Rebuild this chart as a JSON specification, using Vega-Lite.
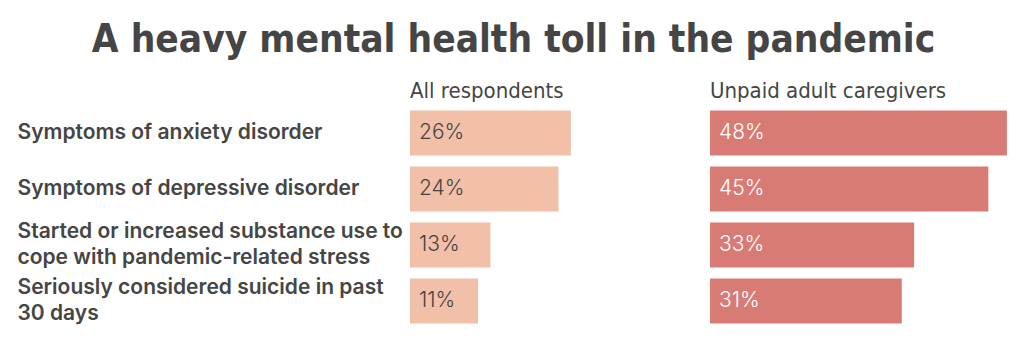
{
  "$schema": "https://vega.github.io/schema/vega-lite/v6.json",
  "background": "white",
  "padding": {"left": 17, "right": 14, "top": 20, "bottom": 10},
  "title": {
    "text": "A heavy mental health toll in the pandemic",
    "anchor": "middle",
    "frame": "bounds",
    "font": "DejaVu Sans Condensed, sans-serif",
    "fontSize": 38.5,
    "fontWeight": "bold",
    "color": "#454545",
    "offset": 20
  },
  "data": {
    "values": [
      {"item": "Symptoms of anxiety disorder", "group": "All respondents", "value": 0.26},
      {"item": "Symptoms of depressive disorder", "group": "All respondents", "value": 0.24},
      {"item": "Started or increased substance use to|cope with pandemic-related stress", "group": "All respondents", "value": 0.13},
      {"item": "Seriously considered suicide in past|30 days", "group": "All respondents", "value": 0.11},
      {"item": "Symptoms of anxiety disorder", "group": "Unpaid adult caregivers", "value": 0.48},
      {"item": "Symptoms of depressive disorder", "group": "Unpaid adult caregivers", "value": 0.45},
      {"item": "Started or increased substance use to|cope with pandemic-related stress", "group": "Unpaid adult caregivers", "value": 0.33},
      {"item": "Seriously considered suicide in past|30 days", "group": "Unpaid adult caregivers", "value": 0.31}
    ]
  },
  "spacing": 0,
  "hconcat": [
    {
      "width": 300,
      "height": 224,
      "title": {"text": "All respondents", "anchor": "start", "frame": "group", "font": "DejaVu Sans Condensed, sans-serif", "fontSize": 22, "fontWeight": "normal", "color": "#454545", "offset": 2},
      "transform": [{"filter": "datum.group === 'All respondents'"}],
      "encoding": {
        "y": {
          "field": "item", "type": "nominal", "sort": null,
          "scale": {"paddingInner": 0.2, "paddingOuter": 0.1},
          "axis": {
            "title": null, "domain": false, "ticks": false,
            "labelAlign": "left", "labelPadding": 393, "labelBaseline": "middle",
            "labelOffset": {"condition": {"test": "indexof(datum.value, '|') >= 0", "value": -13}, "value": 0},
            "labelExpr": "split(datum.label, '|')",
            "labelFont": "Inter, sans-serif", "labelFontSize": 21, "labelFontWeight": 600,
            "labelColor": "#454545", "labelLineHeight": 26, "labelLimit": 400
          }
        }
      },
      "layer": [
        {
          "mark": {"type": "bar", "color": "#F2BFA8"},
          "encoding": {
            "x": {"field": "value", "type": "quantitative", "scale": {"domain": [0, 0.485], "nice": false}, "axis": null}
          }
        },
        {
          "mark": {"type": "text", "align": "left", "dx": 9, "font": "Inter, sans-serif", "fontSize": 21, "fontWeight": 300, "color": "#454545"},
          "encoding": {
            "x": {"datum": 0, "type": "quantitative"},
            "text": {"field": "value", "type": "quantitative", "format": ".0%"}
          }
        }
      ]
    },
    {
      "width": 300,
      "height": 224,
      "title": {"text": "Unpaid adult caregivers", "anchor": "start", "frame": "group", "font": "DejaVu Sans Condensed, sans-serif", "fontSize": 22, "fontWeight": "normal", "color": "#454545", "offset": 2},
      "transform": [{"filter": "datum.group === 'Unpaid adult caregivers'"}],
      "encoding": {
        "y": {
          "field": "item", "type": "nominal", "sort": null,
          "scale": {"paddingInner": 0.2, "paddingOuter": 0.1},
          "axis": null
        }
      },
      "layer": [
        {
          "mark": {"type": "bar", "color": "#D87B74"},
          "encoding": {
            "x": {"field": "value", "type": "quantitative", "scale": {"domain": [0, 0.485], "nice": false}, "axis": null}
          }
        },
        {
          "mark": {"type": "text", "align": "left", "dx": 9, "font": "Inter, sans-serif", "fontSize": 21, "fontWeight": 300, "color": "white"},
          "encoding": {
            "x": {"datum": 0, "type": "quantitative"},
            "text": {"field": "value", "type": "quantitative", "format": ".0%"}
          }
        }
      ]
    }
  ],
  "config": {"view": {"stroke": null}}
}
